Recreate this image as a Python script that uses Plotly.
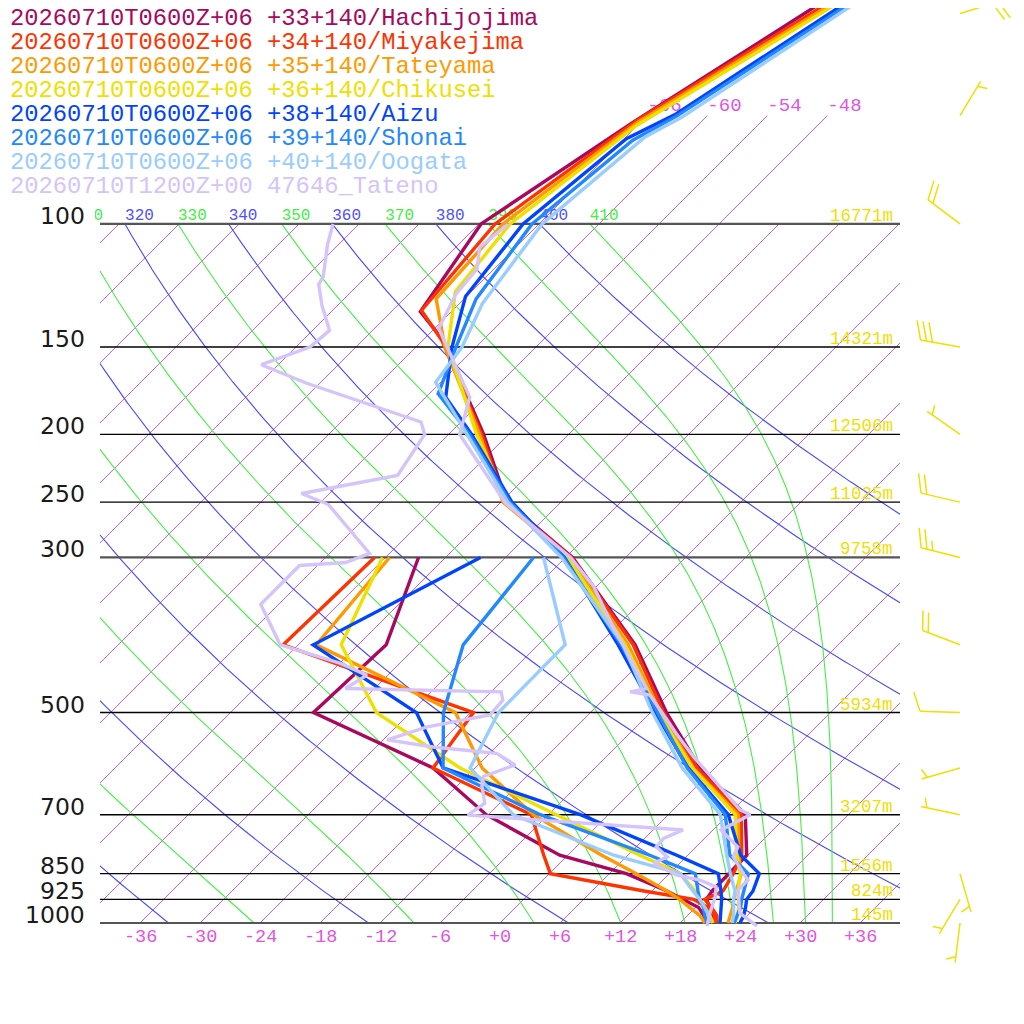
import numpy as np
import plotly.graph_objects as go

# ---------------- data ----------------
std_levels = [1000, 975, 950, 925, 900, 850, 800, 700, 600, 500, 400, 300]

series_labels = [
    "20260710T0600Z+06 +33+140/Hachijojima",
    "20260710T0600Z+06 +34+140/Miyakejima",
    "20260710T0600Z+06 +35+140/Tateyama",
    "20260710T0600Z+06 +36+140/Chikusei",
    "20260710T0600Z+06 +38+140/Aizu",
    "20260710T0600Z+06 +39+140/Shonai",
    "20260710T0600Z+06 +40+140/Oogata",
    "20260710T1200Z+00 47646_Tateno",
]
series_colors = ["#a8085e", "#ff3300", "#ff9900", "#eee000",
                 "#0044ff", "#2288ff", "#99ccff", "#d4c4fa"]

hachijojima_p = [1000, 975, 950, 925, 900, 850, 800, 700, 600, 500, 400, 300, 250, 200, 146, 133.5, 100, 71.7, 30]
hachijojima_t = [21.2, 20.4, 19.4, 18.3, 18.0, 18.0, 17.9, 13.7, 4.5, -4.4, -14.3, -29.3, -41.4, -50.5, -64.2, -69.1, -71.8, -66.8, -51.6]
hachijojima_td = [20.6, 19.6, 18.3, 16.0, 13.5, 7.7, -0.8, -12.2, -22.2, -39.7, -39.2, -44.7]

miyakejima_p = [1000, 975, 950, 925, 900, 850, 800, 700, 600, 500, 400, 300, 250, 200, 147, 133, 100, 71.2, 30]
miyakejima_t = [21.7, 20.9, 19.6, 18.1, 19.1, 18.4, 17.4, 13.3, 4.2, -4.7, -14.5, -29.4, -41.6, -50.7, -64.0, -69.1, -70.4, -66.6, -50.1]
miyakejima_td = [21.4, 20.7, 19.2, 17.0, 11.2, 0.1, -2.4, -7.7, -22.2, -23.7, -49.5, -49.1]

tateyama_p = [1000, 975, 950, 925, 900, 850, 800, 700, 600, 500, 400, 300, 250, 200, 150, 128, 100, 71.5, 30]
tateyama_t = [22.8, 22.3, 21.7, 21.0, 20.4, 19.2, 17.1, 13.0, 3.8, -5.0, -15.0, -29.6, -41.8, -50.9, -63.1, -68.8, -69.6, -66.3, -49.4]
tateyama_td = [20.5, 19.2, 17.4, 15.6, 13.5, 8.7, 3.4, -7.5, -17.3, -25.5, -46.2, -47.6]

chikusei_p = [1000, 975, 950, 925, 900, 850, 800, 700, 600, 500, 400, 300, 250, 200, 150, 125, 100, 72.3, 30]
chikusei_t = [23.5, 23.0, 22.3, 21.5, 20.6, 19.1, 16.9, 12.7, 3.7, -5.2, -15.3, -29.8, -41.3, -51.2, -62.8, -67.6, -68.9, -66.1, -48.9]
chikusei_td = [21.3, 20.2, 18.9, 17.6, 16.3, 13.1, 7.2, -5.2, -19.5, -33.4, -43.7, -48.3]

aizu_p = [1000, 975, 950, 925, 900, 850, 800, 700, 600, 500, 400, 300, 250, 200, 177, 150, 127, 100, 75.5, 69.6, 30]
aizu_t = [24.0, 23.6, 23.0, 22.3, 22.1, 21.0, 17.3, 12.0, 3.3, -5.5, -16.0, -30.1, -40.9, -51.7, -58.0, -62.4, -66.1, -67.6, -65.8, -63.3, -49.8]
aizu_td = [22.0, 21.3, 20.6, 19.8, 18.9, 16.9, 10.9, -2.8, -21.2, -29.4, -46.5, -38.5]

shonai_p = [1000, 975, 950, 925, 900, 850, 800, 700, 600, 500, 400, 300, 250, 200, 175, 150, 128, 100, 75.9, 70, 30]
shonai_t = [23.4, 23.0, 22.5, 21.8, 21.2, 19.9, 16.2, 11.7, 3.2, -5.3, -15.7, -30.2, -41.1, -51.9, -59.1, -62.0, -64.8, -66.7, -65.0, -63.0, -49.2]
shonai_td = [20.7, 19.7, 18.8, 17.6, 16.6, 14.6, 8.2, -6.8, -21.2, -26.7, -31.5, -33.2]

oogata_p = [1000, 975, 950, 925, 900, 850, 800, 700, 600, 500, 400, 300, 250, 200, 168.5, 150, 130, 100, 75.1, 70.4, 30]
oogata_t = [23.2, 22.6, 21.8, 21.0, 20.3, 18.1, 15.9, 11.2, 2.7, -5.8, -15.5, -30.4, -41.3, -52.2, -60.5, -61.4, -63.7, -65.7, -64.1, -62.4, -48.9]
oogata_td = [21.0, 20.1, 18.9, 17.6, 16.1, 13.1, 4.6, -9.5, -18.5, -21.2, -21.3, -32.2]

tateno_t_p = [1010, 968, 897, 868, 848, 804, 779, 736, 700, 689, 578, 536, 472, 467, 462, 411, 369, 330, 300,
              251, 200, 177, 158, 141, 126, 116, 108, 100]
tateno_t = [26.0, 23.0, 20.5, 20.5, 19.3, 16.7, 16.2, 12.8, 14.2, 12.7, 2.7, -1.3, -7.8, -10.1, -8.8, -14.3, -19.3, -24.3, -29.5,
            -41.4, -52.9, -55.6, -60.6, -65.6, -67.3, -67.7, -69.6, -69.1]
tateno_td_p = [1010, 968, 917, 888, 868, 854, 822, 804, 778, 756, 736, 701, 674, 637, 617, 594, 572, 560, 547, 524,
               504, 480, 467, 462, 442, 425, 400, 350, 308, 305, 296, 252, 243, 229, 200, 192, 169, 159, 150, 142,
               131, 122, 119, 107, 100]
tateno_td = [21.0, 20.0, 18.9, 18.0, 15.7, 12.9, 9.4, 10.1, 8.0, 7.9, 9.0, -14.0, -13.5, -15.5, -16.3, -14.3, -17.3, -24.3, -29.6, -26.9,
             -21.8, -22.0, -23.0, -38.9, -38.1, -42.0, -49.8, -55.8, -55.8, -51.5, -50.0, -59.0, -62.8, -55.0, -56.4, -58.0, -73.3, -79.7, -76.6, -76.3,
             -79.5, -82.0, -82.3, -85.1, -86.6]

pressure_lines = [100, 150, 200, 250, 300, 500, 700, 850, 925, 1000]
height_labels = ["16771m", "14321m", "12506m", "11025m", "9758m", "5934m", "3207m", "1556m", "824m", "145m"]

isotherms = list(range(-108, 42, 6))
isotherm_axis_labels = list(range(-36, 42, 6))
isotherm_top_labels = [-66, -60, -54, -48]
dry_adiabats = list(range(220, 420, 20))
moist_adiabats = list(range(230, 430, 20))
labelled_adiabats = [310, 320, 330, 340, 350, 360, 370, 380, 390, 400, 410]

wind_p = [50, 70, 100, 150, 200, 250, 300, 400, 500, 600, 700, 850, 925, 1000]
wind_dir = [73, 31, 307, 280, 305, 283, 284, 291, 272, 254, 282, 164, 211, 187]
wind_kt = [20, 5, 20, 30, 5, 20, 25, 20, 10, 5, 5, 5, 5, 5]

# ---------------- geometry ----------------
W = H = 1024
OFF = 8.0                     # page offset of the figure inside the browser window
PX0, PXD = 500.0, 10.0        # window pixel of 0 degC at 1000 hPa, pixels per degC
Y1000, S = 923.0, 303.6       # window pixel of 1000 hPa, pixels per ln-pressure unit
SKEW = S / PXD                # 45 degree isotherms
XMIN, XMAX = -40.0, 40.0
KAPPA = 0.2857

def skx(t, p):
    return np.asarray(t, float) + SKEW * np.log(1000.0 / np.asarray(p, float))

def px_to_data(px, py):
    return (px - PX0) / PXD, 1000.0 * np.exp(-(Y1000 - py) / S)

def data_y_px(p):
    return Y1000 - S * np.log(1000.0 / p)

def paper_x(px):
    return (px - OFF) / W

def paper_y(py):
    return 1 - (py - OFF) / H

x_range = [(OFF - PX0) / PXD, (OFF + W - PX0) / PXD]
p_top = 1000.0 * np.exp(-(Y1000 - OFF) / S)
p_bot = 1000.0 * np.exp((OFF + H - Y1000) / S)

def clip_poly(xs, ps, xmin=XMIN, xmax=XMAX):
    xs = np.asarray(xs, float)
    us = np.log(np.asarray(ps, float))
    pieces, cur = [], []
    for i in range(len(xs) - 1):
        x0, u0, x1, u1 = xs[i], us[i], xs[i + 1], us[i + 1]
        dx = x1 - x0
        t0, t1 = 0.0, 1.0
        if abs(dx) < 1e-12:
            if x0 < xmin or x0 > xmax:
                continue
        else:
            ta, tb = (xmin - x0) / dx, (xmax - x0) / dx
            t0, t1 = max(t0, min(ta, tb)), min(t1, max(ta, tb))
            if t0 > t1:
                continue
        a = (x0 + t0 * dx, u0 + t0 * (u1 - u0))
        b = (x0 + t1 * dx, u0 + t1 * (u1 - u0))
        if cur and abs(cur[-1][0] - a[0]) < 1e-9 and abs(cur[-1][1] - a[1]) < 1e-9:
            cur.append(b)
        else:
            if cur:
                pieces.append(cur)
            cur = [a, b]
    if cur:
        pieces.append(cur)
    return pieces

def pieces_to_xy(all_pieces):
    X, Y = [], []
    for pc in all_pieces:
        for (x, u) in pc:
            X.append(x)
            Y.append(float(np.exp(u)))
        X.append(None)
        Y.append(None)
    return X, Y

def es_hpa(tc):
    return 6.112 * np.exp(17.67 * tc / (tc + 243.5))

def theta_e_sat(tc, p):
    tk = tc + 273.15
    e = es_hpa(tc)
    r = 622.0 * e / np.maximum(p - e, 1e-6)
    return tk * (1000.0 / p) ** (0.2854 * (1 - 0.00028 * r)) * np.exp((3.376 / tk - 0.00254) * r * (1 + 0.00081 * r))

def moist_T(the, p):
    lo = np.full_like(p, -160.0)
    hi = np.full_like(p, 60.0)
    for _ in range(70):
        mid = 0.5 * (lo + hi)
        f = theta_e_sat(mid, p) - the
        hi = np.where(f > 0, mid, hi)
        lo = np.where(f > 0, lo, mid)
    return 0.5 * (lo + hi)

pgrid = np.exp(np.linspace(np.log(1000.0), np.log(100.0), 260))

fig = go.Figure()

def add_lines(X, Y, color, width):
    fig.add_trace(go.Scatter(x=X, y=Y, mode="lines", line=dict(color=color, width=width),
                             hoverinfo="skip", showlegend=False))

# isotherms
iso_pieces = []
for t in isotherms:
    ptop = 70.0 if t in isotherm_top_labels else 100.0
    pp = np.array([1000.0, ptop])
    xs = skx([t, t], pp)
    iso_pieces += clip_poly(xs, pp)
X, Y = pieces_to_xy(iso_pieces)
add_lines(X, Y, "#d048e0", 0.9)

# dry adiabats
dry_pieces = []
for th in dry_adiabats:
    tt = th * (pgrid / 1000.0) ** KAPPA - 273.15
    dry_pieces += clip_poly(skx(tt, pgrid), pgrid)
X, Y = pieces_to_xy(dry_pieces)
add_lines(X, Y, "#4646ff", 1.1)

# moist adiabats
moist_pieces = []
for the in moist_adiabats:
    tt = moist_T(float(the), pgrid)
    moist_pieces += clip_poly(skx(tt, pgrid), pgrid)
X, Y = pieces_to_xy(moist_pieces)
add_lines(X, Y, "#44ee44", 1.1)

# pressure lines
for p in pressure_lines:
    heavy = p in (100, 300, 1000)
    add_lines([XMIN, XMAX], [p, p], "#555555" if heavy else "#000000", 2.2 if heavy else 1.4)

# adiabat labels at 100 hPa (scatter text so that a mask can hide the part outside the frame)
lab_x, lab_y, lab_t, lab_c = [], [], [], []
for v in labelled_adiabats:
    if v % 20 == 0:
        t100 = v * (0.1) ** KAPPA - 273.15
        col = "#5050ff"
    else:
        t100 = float(moist_T(np.array([float(v)]), np.array([100.0]))[0])
        col = "#44ee44"
    lab_x.append(float(skx(t100, 100.0)))
    lab_y.append(100.0)
    lab_t.append(str(v))
    lab_c.append(col)
fig.add_trace(go.Scatter(x=lab_x, y=lab_y, mode="text", text=lab_t, textposition="top right",
                         textfont=dict(family="Liberation Mono", size=16, color=lab_c),
                         hoverinfo="skip", showlegend=False))

# isotherm labels at top of extended isotherms
fig.add_trace(go.Scatter(x=[float(skx(t, 70.0)) for t in isotherm_top_labels],
                         y=[70.0] * len(isotherm_top_labels), mode="text",
                         text=[str(t) for t in isotherm_top_labels],
                         textposition="top right",
                         textfont=dict(family="Liberation Mono", size=19, color="#e055e0"),
                         hoverinfo="skip", showlegend=False))

# soundings
model_series = [
    (hachijojima_p, hachijojima_t, hachijojima_td),
    (miyakejima_p, miyakejima_t, miyakejima_td),
    (tateyama_p, tateyama_t, tateyama_td),
    (chikusei_p, chikusei_t, chikusei_td),
    (aizu_p, aizu_t, aizu_td),
    (shonai_p, shonai_t, shonai_td),
    (oogata_p, oogata_t, oogata_td),
]
LW = 3.4
for (pp, tt, dd), col in zip(model_series, series_colors[:7]):
    fig.add_trace(go.Scatter(x=skx(tt, pp), y=pp, mode="lines", line=dict(color=col, width=LW),
                             hoverinfo="skip", showlegend=False))
    fig.add_trace(go.Scatter(x=skx(dd, std_levels), y=std_levels, mode="lines", line=dict(color=col, width=LW),
                             hoverinfo="skip", showlegend=False))
fig.add_trace(go.Scatter(x=skx(tateno_t, tateno_t_p), y=tateno_t_p, mode="lines",
                         line=dict(color=series_colors[7], width=LW), hoverinfo="skip", showlegend=False))
fig.add_trace(go.Scatter(x=skx(tateno_td, tateno_td_p), y=tateno_td_p, mode="lines",
                         line=dict(color=series_colors[7], width=LW), hoverinfo="skip", showlegend=False))

# wind barbs
BARB_X, STAFF, FULL, HALF, GAP = 960.0, 40.0, 20.0, 10.0, 6.0
ang = np.radians(70)
BX, BY = [], []
def seg(a, b):
    xa, pa = px_to_data(*a)
    xb, pb = px_to_data(*b)
    BX.extend([xa, xb, None])
    BY.extend([pa, pb, None])
for p, d, s in zip(wind_p, wind_dir, wind_kt):
    by = data_y_px(p)
    th = np.radians(d)
    ux, uy = np.sin(th), -np.cos(th)
    tx, ty = BARB_X + STAFF * ux, by + STAFF * uy
    seg((BARB_X, by), (tx, ty))
    vx = ux * np.cos(ang) - uy * np.sin(ang)
    vy = ux * np.sin(ang) + uy * np.cos(ang)
    nfull = int(s // 10)
    half = (s % 10) >= 5
    pos = 0.0
    for k in range(nfull):
        sx, sy = tx - ux * pos, ty - uy * pos
        seg((sx, sy), (sx + FULL * vx, sy + FULL * vy))
        pos += GAP
    if half:
        if nfull == 0:
            pos = GAP
        sx, sy = tx - ux * pos, ty - uy * pos
        seg((sx, sy), (sx + HALF * vx, sy + HALF * vy))
fig.add_trace(go.Scatter(x=BX, y=BY, mode="lines", line=dict(color="#eee000", width=1.5),
                         hoverinfo="skip", showlegend=False))

# annotations
ann = []
for i, (txt, col) in enumerate(zip(series_labels, series_colors)):
    ann.append(dict(xref="paper", yref="paper", x=paper_x(8), y=paper_y(18 + 24 * i), xanchor="left", yanchor="middle",
                    text=txt, showarrow=False, font=dict(family="Liberation Mono", size=23.8, color=col)))
for p in pressure_lines:
    ann.append(dict(xref="x", yref="y", x=(87 - PX0) / PXD, y=np.log10(p), xanchor="right", yanchor="middle",
                    yshift=8, text=str(p), showarrow=False,
                    font=dict(family="DejaVu Sans", size=23.5, color="#1a1a1a")))
for p, h in zip(pressure_lines, height_labels):
    ann.append(dict(xref="x", yref="y", x=XMAX - 0.5, y=np.log10(p), xanchor="right", yanchor="middle",
                    yshift=8, text=h, showarrow=False,
                    font=dict(family="Liberation Mono", size=17.5, color="#eee000")))
for t in isotherm_axis_labels:
    ann.append(dict(xref="x", yref="y", x=t, y=np.log10(1000), xanchor="center", yanchor="middle",
                    yshift=-14, text=f"{t:+d}", showarrow=False,
                    font=dict(family="Liberation Mono", size=18.5, color="#e055e0")))

fig.update_layout(
    width=W, height=H, margin=dict(l=0, r=0, t=0, b=0),
    paper_bgcolor="white", plot_bgcolor="white",
    xaxis=dict(range=x_range, visible=False, showgrid=False, zeroline=False),
    yaxis=dict(type="log", range=[np.log10(p_bot), np.log10(p_top)], visible=False, showgrid=False, zeroline=False),
    annotations=ann,
    shapes=[dict(type="rect", xref="paper", yref="paper", x0=0, x1=paper_x(95), y0=paper_y(222), y1=paper_y(198),
                 fillcolor="white", line=dict(width=0), layer="above")],
)

fig.write_html("out.html")
